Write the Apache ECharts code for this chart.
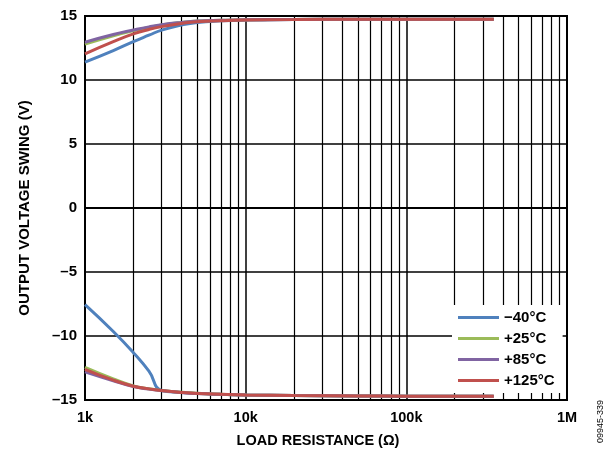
<!DOCTYPE html>
<html><head><meta charset="utf-8">
<script src="https://cdn.jsdelivr.net/npm/echarts@6/dist/echarts.min.js"></script>
<style>html,body{margin:0;padding:0;background:#fff}#c{width:610px;height:453px}</style>
</head><body><div id="c"></div>
<script>
// Load resistance (ohms)
var resistance = [1000, 1500, 2000, 2500, 3000, 4000, 5000, 7000, 10000, 20000, 50000, 100000, 350000];
// Positive swing (V)
var posM40  = [11.4, 12.3, 13.0, 13.5, 13.9, 14.3, 14.5, 14.62, 14.68, 14.72, 14.75, 14.75, 14.75];
var pos25   = [12.8, 13.45, 13.85, 14.1, 14.3, 14.5, 14.6, 14.66, 14.7, 14.73, 14.75, 14.75, 14.75];
var pos85   = [12.95, 13.55, 13.9, 14.15, 14.32, 14.5, 14.6, 14.66, 14.7, 14.73, 14.75, 14.75, 14.75];
var pos125  = [12.05, 13.0, 13.6, 13.95, 14.17, 14.42, 14.55, 14.63, 14.68, 14.72, 14.75, 14.75, 14.75];
// Negative swing (V)
var negM40  = [-7.55, -9.65, -11.3, -12.75, -14.25, -14.42, -14.5, -14.56, -14.6, -14.65, -14.68, -14.7, -14.7];
var neg25   = [-12.45, -13.35, -13.9, -14.12, -14.25, -14.4, -14.48, -14.55, -14.6, -14.65, -14.68, -14.7, -14.7];
var neg85   = [-12.8, -13.5, -13.95, -14.15, -14.27, -14.42, -14.5, -14.56, -14.6, -14.65, -14.68, -14.7, -14.7];
var neg125  = [-12.6, -13.45, -13.92, -14.13, -14.26, -14.41, -14.49, -14.55, -14.6, -14.65, -14.68, -14.7, -14.7];
// Names, colors, ticks
var seriesNames = ['\u221240\u00b0C', '+25\u00b0C', '+85\u00b0C', '+125\u00b0C'];
var seriesColors = ['#4f81bd', '#9bbb59', '#8064a2', '#c0504d'];
var xTickValues = [1000, 10000, 100000, 1000000];
var xTickLabels = ['1k', '10k', '100k', '1M'];
var minorGrid = [2000,3000,4000,5000,6000,7000,8000,9000,20000,30000,40000,50000,60000,70000,80000,90000,200000,300000,400000,500000,600000,700000,800000,900000];

var pairs = [[posM40, negM40], [pos25, neg25], [pos85, neg85], [pos125, neg125]];
function zip(ys){ return resistance.map(function(x,i){return [x, ys[i]];}); }

var FONT = 'Liberation Sans';
var series = [{
  type: 'line', name: 'grid', data: [], silent: true, z: 1,
  markLine: { silent: true, symbol: ['none','none'], label: {show:false}, z: 1,
    lineStyle: {color:'#000', width:1.2, type:'solid'}, animation:false,
    data: minorGrid.map(function(v){return {xAxis: v};}) }
}];
pairs.forEach(function(p, i){
  [0,1].forEach(function(k){
    series.push({
      type: 'line', name: seriesNames[i], data: zip(p[k]), smooth: true,
      showSymbol: false, symbol: 'none', z: 3 + i,
      lineStyle: {color: seriesColors[i], width: 3}, itemStyle: {color: seriesColors[i]}
    });
  });
});

var chart = echarts.init(document.getElementById('c'), null, {renderer: 'canvas'});
chart.setOption({
  animation: false,
  backgroundColor: '#fff',
  grid: {left: 85, right: 43, top: 16, bottom: 52, show: true, borderColor: '#000', borderWidth: 2, backgroundColor: 'transparent'},
  xAxis: {
    type: 'log', logBase: 10, min: 1000, max: 1000000, splitNumber: 3,
    axisLine: {show: true, lineStyle: {color:'#000', width: 2}},
    axisTick: {show: false},
    splitLine: {show: true, lineStyle: {color:'#000', width: 1.5}},
    axisLabel: {color:'#000', fontFamily: FONT, fontWeight: 'bold', fontSize: 14.5, margin: 10,
      formatter: function(v){ var i = xTickValues.indexOf(Math.round(v)); return i >= 0 ? xTickLabels[i] : ''; }},
    name: 'LOAD RESISTANCE (\u03a9)', nameLocation: 'middle', nameGap: 33,
    nameTextStyle: {color:'#000', fontFamily: FONT, fontWeight: 'bold', fontSize: 14.5, padding: [0, 16, 0, 0]}
  },
  yAxis: {
    type: 'value', min: -15, max: 15, interval: 5,
    axisLine: {show: true, lineStyle: {color:'#000', width: 2}},
    axisTick: {show: false},
    splitLine: {show: true, lineStyle: {color:'#000', width: 1.5}},
    axisLabel: {color:'#000', fontFamily: FONT, fontWeight: 'bold', fontSize: 15, margin: 8,
      formatter: function(v){ return String(v).replace('-', '\u2013'); }},
    name: 'OUTPUT VOLTAGE SWING (V)', nameLocation: 'middle', nameGap: 53, nameRotate: 90,
    nameTextStyle: {color:'#000', fontFamily: FONT, fontWeight: 'bold', fontSize: 15}
  },
  legend: {
    data: seriesNames, orient: 'vertical', left: 452, top: 305, z: 20,
    backgroundColor: '#fff', padding: [5, 8, 5, 6], itemGap: 6,
    icon: 'rect', itemWidth: 41, itemHeight: 3,
    textStyle: {color:'#000', fontFamily: FONT, fontWeight: 'bold', fontSize: 15, padding: [0,0,0,0]}
  },
  graphic: [{
    type: 'text', left: 596, top: 400, rotation: Math.PI/2, z: 30,
    style: {text: '09945-339', fill: '#000', font: '9px "Liberation Sans"'}
  }],
  series: series
});
</script></body></html>
